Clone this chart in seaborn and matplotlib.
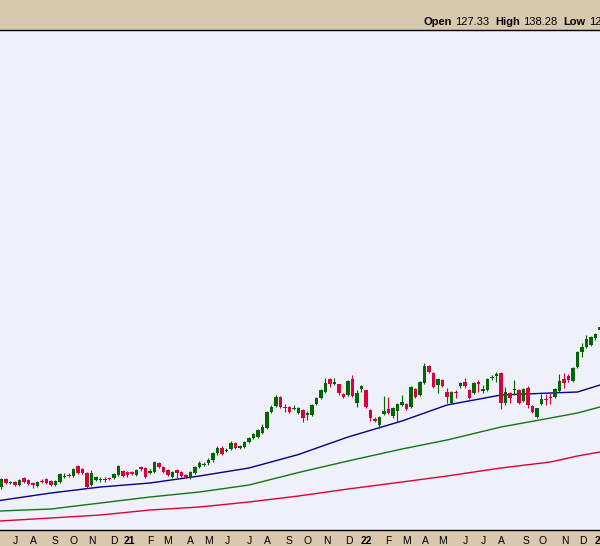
import numpy as np
import pandas as pd
import matplotlib
matplotlib.use("Agg")
import matplotlib.pyplot as plt
import seaborn as sns

# ---------------- data (weekly candles, week index 0 = first week of Jul 2020) ----------------
weeks = list(range(-3, 131))

opens = [56.5, 60.5, 58.5, 59, 57.5, 61, 60, 58.5, 57, 59.5,
         60.5, 59.5, 57.5, 59, 61.5, 62.5, 62, 67, 65.5, 63.5,
         57.5, 60, 60, 60, 61, 61, 62.5, 64.5, 64, 64,
         62.5, 66.5, 66, 63.5, 64, 68.5, 66.5, 65, 61.5, 65,
         64, 62.5, 61, 63.5, 66.5, 67.5, 68.5, 70, 73.5, 76,
         74.5, 75.5, 78.5, 76, 76.5, 79, 81, 81.5, 83.5, 86,
         94, 97, 101.5, 96.5, 96.5, 95.5, 93.5, 95, 92.5, 92.5,
         98, 101, 104, 110.5, 108, 108, 103, 102.5, 110.5, 98.5,
         105.5, 105, 95, 90.5, 87.5, 93, 95.5, 92, 94.5, 97.5,
         98, 96.5, 105.5, 102.5, 108.5, 117, 113.5, 107.5, 110, 104,
         98.5, 104, 107, 109, 105, 103.5, 109, 104.5, 105, 111,
         112, 113.5, 98.5, 103.5, 105, 105, 99.5, 106, 97, 91.5,
         98, 100.5, 101.5, 101.5, 104.5, 110.5, 112, 109.5, 116.5, 124,
         126.5, 127.5, 131, 135]
highs = [61, 61, 59.5, 59.5, 60.5, 61.5, 60.5, 59, 59.5, 60.5,
         61, 60, 60, 63.5, 63.5, 63.5, 66, 67.5, 66, 64,
         65, 62, 61.5, 61.5, 61.5, 63.5, 67.5, 65, 64.5, 64.5,
         65.5, 67, 66.5, 65.5, 69.5, 69, 67, 65.5, 64.5, 65.5,
         64.5, 63, 64.5, 67, 69.5, 69, 71, 74, 77, 77,
         76, 79.5, 79, 77.5, 79.5, 81.5, 83.5, 85.5, 88, 94.5,
         97.5, 102.5, 102, 98, 97, 97.5, 96.5, 95.5, 94.5, 98,
         101.5, 105.5, 111, 111, 111, 108, 103.5, 110, 112.5, 105,
         107.5, 105, 95.5, 91.5, 92, 102, 101.5, 96.5, 98.5, 102.5,
         98.5, 107, 106, 109.5, 118.5, 117.5, 114, 111, 110.5, 106,
         104.5, 105, 109, 111, 105.5, 109, 110, 107.5, 111, 112.5,
         114, 114, 106.5, 104, 110, 105.5, 106, 107, 97.5, 96,
         103, 103, 103.5, 106, 113, 113.5, 113, 116.5, 124.5, 128.5,
         132.5, 132, 133.5, 137]
lows = [55.5, 58, 58, 57, 57, 58.5, 57.5, 56, 56.5, 58.5,
        58, 57, 57, 58.5, 61, 61.5, 61.5, 63, 63, 56,
        57, 59.5, 59, 59, 60, 60.5, 62, 61.5, 61.5, 62.5,
        62, 64.5, 61, 63, 63.5, 66, 63.5, 62, 61, 61,
        61.5, 61, 60.5, 63, 66, 67, 67.5, 69, 72.5, 72.5,
        74, 75, 75.5, 75.5, 76, 78.5, 80.5, 81, 83, 85.5,
        93.5, 96.5, 96, 94, 93.5, 95, 93, 89, 90, 92,
        97.5, 100.5, 103.5, 106.5, 107.5, 102.5, 101, 102, 101.5, 96.5,
        104, 96, 89.5, 89, 86, 92.5, 93, 91, 89, 97,
        95, 96, 101, 102, 108, 113.5, 106, 103.5, 106.5, 98.5,
        98, 101, 106, 106, 100.5, 103, 104, 103.5, 104.5, 110,
        109, 95.5, 97.5, 98.5, 102.5, 98, 99, 96, 93.5, 91,
        97.5, 97.5, 98, 101, 104, 106, 109, 109, 116, 121.5,
        126, 127, 130, 134.5]
closes = [60.5, 58.5, 59, 57.5, 60, 59, 58, 57.5, 59, 59,
          58.5, 57.5, 59.5, 63, 62, 62, 65.5, 63.5, 63.5, 56.5,
          63.5, 61.5, 60.5, 60.5, 60.5, 63, 67, 62, 62.5, 63,
          65, 65.5, 61.5, 64.5, 69, 66.5, 64, 62.5, 64, 63.5,
          62, 61.5, 64, 66.5, 68.5, 68, 70, 73.5, 76, 73,
          75, 78.5, 76, 77, 79, 81, 83, 85, 86.5, 94,
          96.5, 101.5, 96.5, 96, 94, 96, 96, 91, 93.5, 97.5,
          101, 105, 108.5, 108, 109, 103.5, 101.5, 109.5, 102, 103.5,
          107, 96.5, 91, 89.5, 91.5, 94.5, 93.5, 96, 98, 99,
          95.5, 106.5, 101.5, 109, 117, 114, 106.5, 110.5, 107, 101.5,
          104, 103.5, 108.5, 107, 101, 108.5, 108, 105.5, 110.5, 111.5,
          113, 98.5, 104, 101, 105.5, 98.5, 105.5, 97.5, 94, 96,
          100.5, 100, 101, 105.5, 109.5, 108.5, 110, 116, 124, 126.5,
          130.5, 131.5, 133, 136.5]

# moving averages
ma_weeks = [-3.4, 8, 19, 30, 41, 52, 63, 74, 86, 96, 108, 119, 125, 130]
ma_blue = [49.75, 53.5, 56.5, 58.5, 62, 66, 72.75, 81.5, 89.5, 97.5, 102.5, 103.5, 104, 107.5]
ma_green = [44.5, 45.5, 48.5, 51.5, 54, 57.5, 63.75, 69.5, 75.5, 80, 86.5, 91, 93.5, 96.5]
ma_red = [39.5, 41, 42.5, 45, 46.5, 49, 52, 55.5, 59, 62, 66, 69, 72, 74]

month_pos = [0, 4, 9, 13, 17, 22, 25.5, 30, 34, 39, 43, 47.3, 52, 56, 61, 65, 69.3, 74.2,
             78, 83, 87, 91.3, 95, 100.2, 104.2, 108.2, 113.6, 117.3, 122.2, 126.2, 130]
month_labels = ["J", "A", "S", "O", "N", "D", "21", "F", "M", "A", "M", "J", "J", "A", "S",
                "O", "N", "D", "22", "F", "M", "A", "M", "J", "J", "A", "S", "O", "N", "D", "23"]

header = [("Open", True), ("127.33", False), ("High", True), ("138.28", False),
          ("Low", True), ("127.00", False)]

# ---------------- style ----------------
TAN = "#D8C8AE"
LAV = "#EFF0F9"
UP = "#006600"
DOWN = "#D6003C"

sns.set_theme(style="white")
plt.rcParams['font.family'] = ['Liberation Sans', 'DejaVu Sans']

fig = plt.figure(figsize=(6.0, 5.46), dpi=100, facecolor=TAN)
ax = fig.add_axes([0, 16 / 546, 1, 500 / 546])
ax.set_facecolor(LAV)

df = pd.DataFrame({"week": weeks, "open": opens, "high": highs, "low": lows, "close": closes})
df["up"] = df["close"] >= df["open"]
cols = np.where(df["up"], UP, DOWN)
body_lo = np.minimum(df["open"], df["close"])
body_h = np.maximum(np.abs(df["close"] - df["open"]), 0.6)

ax.vlines(df["week"], df["low"], df["high"], colors=cols, linewidth=0.8, zorder=3)
ax.bar(df["week"], body_h, bottom=body_lo, width=0.8, color=cols, linewidth=0, zorder=4)

ma = pd.DataFrame({"week": ma_weeks, "blue": ma_blue, "green": ma_green, "red": ma_red})
sns.lineplot(data=ma, x="week", y="red", color="#DD0033", linewidth=1.0, ax=ax, zorder=2)
sns.lineplot(data=ma, x="week", y="green", color="#117711", linewidth=1.0, ax=ax, zorder=2)
sns.lineplot(data=ma, x="week", y="blue", color="#000088", linewidth=1.0, ax=ax, zorder=2)

ax.set_xlim(-3.333, 130)
ax.set_ylim(35, 285)
ax.set_xlabel("")
ax.set_ylabel("")
ax.set_yticks([])

for s in ["left", "right"]:
    ax.spines[s].set_visible(False)
for s in ["top", "bottom"]:
    ax.spines[s].set_visible(True)
    ax.spines[s].set_color("black")
    ax.spines[s].set_linewidth(1.0)

ax.set_xticks(month_pos)
ax.set_xticklabels(month_labels)
ax.set_xticks(weeks, minor=True)
ax.tick_params(axis="x", which="major", length=2.5, width=0.8, color="black",
               direction="out", pad=1.5, labelsize=7.5, labelcolor="black")
ax.tick_params(axis="x", which="minor", length=1.8, width=0.6, color="black", direction="out")
for lab in ax.get_xticklabels():
    if lab.get_text().isdigit():
        lab.set_fontweight("bold")

# header text, chained left to right
fig.canvas.draw()
renderer = fig.canvas.get_renderer()
xcur = 424.0
for k, (txt, bold) in enumerate(header):
    t = fig.text(xcur / 600, 1 - 22 / 546, txt, ha="left", va="center", fontsize=8,
                 fontweight="bold" if bold else "normal", color="black")
    w = t.get_window_extent(renderer).width
    xcur += w + (3 if bold else 6)

fig.savefig("out.png", dpi=100, facecolor=TAN)
